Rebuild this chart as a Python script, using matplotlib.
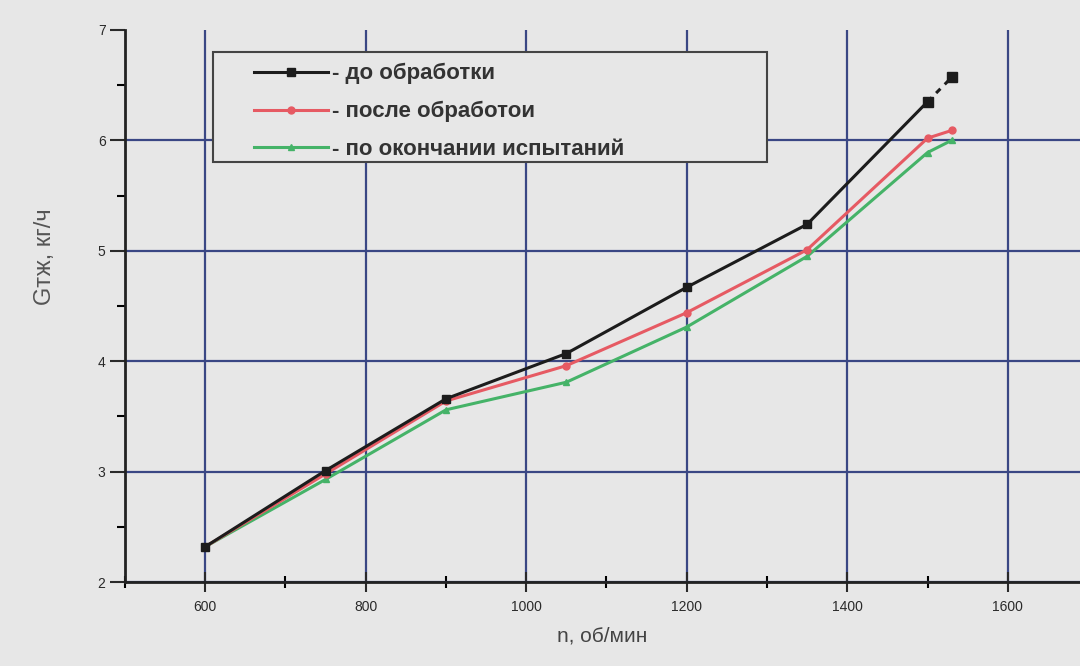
import matplotlib
matplotlib.use("Agg")
import matplotlib.pyplot as plt
from matplotlib.ticker import MultipleLocator
from matplotlib.lines import Line2D
from matplotlib.patches import Rectangle

plt.rcParams['font.family'] = ['Liberation Sans', 'DejaVu Sans']

# Data
rpm = [600, 750, 900, 1050, 1200, 1350, 1500, 1530]
before = [2.32, 3.01, 3.66, 4.07, 4.67, 5.24, 6.35, 6.57]
after = [2.32, 2.98, 3.64, 3.96, 4.44, 5.01, 6.02, 6.09]
end_tests = [2.32, 2.93, 3.56, 3.81, 4.31, 4.95, 5.89, 6.00]
labels = ["- до обработки", "- после обработои", "- по окончании испытаний"]
x_ticks = [600, 800, 1000, 1200, 1400, 1600]
y_ticks = [2, 3, 4, 5, 6, 7]

bg = '#e7e7e7'
grid_c = '#3a4784'
c_black = '#1c1c1c'
c_red = '#e65a63'
c_green = '#45b368'

fig = plt.figure(figsize=(10.8, 6.66), dpi=100, facecolor=bg)
ax = fig.add_axes([0.1157, 0.126, 0.8843, 0.829])
ax.set_facecolor(bg)

ax.set_xlim(500, 1690)
ax.set_ylim(2, 7)

ax.set_xticks(x_ticks)
ax.set_yticks(y_ticks)
ax.xaxis.set_minor_locator(MultipleLocator(100))
ax.yaxis.set_minor_locator(MultipleLocator(0.5))

ax.grid(True, which='major', color=grid_c, linewidth=1.6, zorder=1)
ax.set_axisbelow(True)
# no horizontal grid line at the top value
ax.get_ygridlines()[-1].set_visible(False)

lw = 2.2
ms = 6
ax.plot(rpm[:-1], before[:-1], color=c_black, lw=lw, marker='s', ms=ms, zorder=5)
ax.plot(rpm[-2:], before[-2:], color=c_black, lw=lw, ls=(0, (2, 2)), marker='s', ms=ms + 1, zorder=5)
ax.plot(rpm, after, color=c_red, lw=lw, marker='o', ms=ms - 1, zorder=4)
ax.plot(rpm, end_tests, color=c_green, lw=lw, marker='^', ms=ms - 1, zorder=3)

ax.tick_params(axis='x', which='major', direction='inout', length=14, width=1.5, labelsize=10, colors='#2a2a2a', pad=6)
ax.tick_params(axis='x', which='minor', direction='inout', length=8, width=1.5)
ax.tick_params(axis='y', which='major', direction='out', length=11, width=1.5, labelsize=10, colors='#2a2a2a', pad=3)
ax.tick_params(axis='y', which='minor', direction='out', length=6, width=1.5)

for s in ['top', 'right']:
    ax.spines[s].set_visible(False)
for s in ['left', 'bottom']:
    ax.spines[s].set_color('#222222')
    ax.spines[s].set_linewidth(2)

ax.set_xlabel("n, об/мин", fontsize=15, color='#444444', labelpad=9)
ax.set_ylabel("Gтж, кг/ч", fontsize=17, color='#555555')
ax.yaxis.set_label_coords(-0.072, 0.59)

# legend box (opaque frame, wider than the entries)
box = Rectangle((0.092, 0.761), 0.58, 0.199, transform=ax.transAxes,
                facecolor=bg, edgecolor='#444444', linewidth=1.5, zorder=6)
ax.add_patch(box)

handles = [
    Line2D([], [], color=c_black, lw=lw, marker='s', ms=ms),
    Line2D([], [], color=c_red, lw=lw, marker='o', ms=ms - 1),
    Line2D([], [], color=c_green, lw=lw, marker='^', ms=ms - 1),
]
leg = ax.legend(handles, labels, loc='upper left', bbox_to_anchor=(0.1355, 0.940),
                frameon=False, fontsize=16, handlelength=3.3,
                handletextpad=0.2, labelspacing=0.75, borderpad=0.0,
                borderaxespad=0)
leg.set_zorder(7)
for t in leg.get_texts():
    t.set_color('#333333')
    t.set_fontweight('bold')

fig.savefig("out.png", dpi=100, facecolor=bg)
